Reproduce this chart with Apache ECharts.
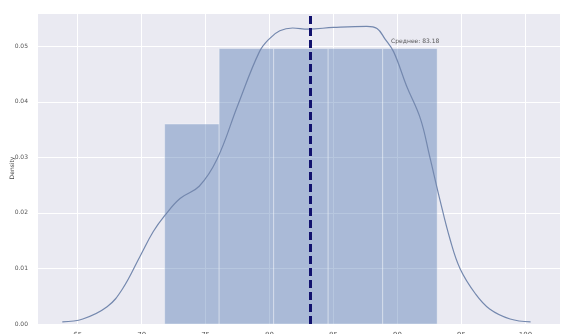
<!DOCTYPE html>
<html>
<head>
<meta charset="utf-8">
<script src="https://cdn.jsdelivr.net/npm/echarts@6/dist/echarts.min.js"></script>
<style>
  html, body { margin: 0; padding: 0; background: #ffffff; }
  #chart { width: 562px; height: 334px; }
</style>
</head>
<body>
<div id="chart"></div>
<script>
// Histogram bin edges and density heights
const binEdges = [71.80, 76.06, 80.32, 84.58, 88.84, 93.10];
const binDensity = [0.0360, 0.0496, 0.0496, 0.0496, 0.0496];

// Kernel density estimate curve: x values and densities
const kdeX = [63.8, 65.4, 67.3, 68.5, 69.9, 70.9, 71.8, 73.0, 74.5, 75.9, 77.5, 79.2, 80.0, 80.8, 81.8, 83.0, 85.0, 87.6, 88.4, 89.0, 89.7, 90.7, 91.8, 92.5, 93.3, 94.1, 94.9, 96.1, 97.2, 98.8, 100.4];
const kdeY = [0.0004, 0.0009, 0.0031, 0.0063, 0.0123, 0.0166, 0.0195, 0.0226, 0.0248, 0.0297, 0.0393, 0.0490, 0.0514, 0.0528, 0.0533, 0.0531, 0.0534, 0.0536, 0.0532, 0.0514, 0.0490, 0.0429, 0.0369, 0.0303, 0.0225, 0.0153, 0.0099, 0.0054, 0.0027, 0.0009, 0.0004];

// Mean of the sample
const meanValue = 83.18;
const meanLabel = 'Среднее: 83.18';

// Axis texts
const xTicks = [65, 70, 75, 80, 85, 90, 95, 100];
const yAxisTitle = 'Density';

const bins = binDensity.map((d, i) => [binEdges[i], binEdges[i + 1], d]);
const kde = kdeX.map((x, i) => [x, kdeY[i]]);

const chart = echarts.init(document.getElementById('chart'), null, { renderer: 'canvas' });

chart.setOption({
  animation: false,
  backgroundColor: '#ffffff',
  grid: { left: 38, right: 2, top: 13, bottom: 10, show: true, backgroundColor: '#EAEAF2', borderWidth: 0,
    containLabel: false, outerBoundsMode: 'none' },
  graphic: [{
    type: 'text',
    x: 12, y: 168,
    rotation: Math.PI / 2,
    style: { text: yAxisTitle, fill: '#444', fontSize: 6, fontFamily: 'DejaVu Sans', align: 'center', verticalAlign: 'middle' }
  }],
  xAxis: {
    type: 'value',
    min: 61.9,
    max: 102.7,
    axisLine: { show: false },
    axisTick: { show: false, customValues: xTicks },
    axisLabel: { customValues: xTicks, color: '#555', fontSize: 7, margin: 8, fontFamily: 'DejaVu Sans' },
    splitLine: { show: true, lineStyle: { color: '#ffffff', width: 1 } }
  },
  yAxis: {
    type: 'value',
    min: 0,
    max: 0.056,
    interval: 0.01,
    axisLine: { show: false },
    axisTick: { show: false },
    axisLabel: { color: '#555', fontSize: 6, margin: 10, fontFamily: 'DejaVu Sans', showMaxLabel: false,
      formatter: v => v.toFixed(2) },
    splitLine: { show: true, lineStyle: { color: '#ffffff', width: 1 } }
  },
  series: [
    {
      type: 'custom',
      data: bins,
      renderItem: (params, api) => {
        const p0 = api.coord([api.value(0), api.value(2)]);
        const p1 = api.coord([api.value(1), 0]);
        return {
          type: 'rect',
          shape: { x: p0[0], y: p0[1], width: p1[0] - p0[0], height: p1[1] - p0[1] },
          style: { fill: 'rgba(76,114,176,0.40)', stroke: 'rgba(255,255,255,0.35)', lineWidth: 1 }
        };
      },
      z: 2
    },
    {
      type: 'line',
      data: kde,
      smooth: 0.4,
      showSymbol: false,
      lineStyle: { color: '#7488AE', width: 1.2 },
      z: 3,
      markLine: {
        silent: true,
        symbol: 'none',
        label: { show: false },
        lineStyle: { color: '#12126E', width: 3, type: [8, 4] },
        data: [{ xAxis: meanValue }]
      }
    },
    {
      type: 'scatter',
      data: [[89.5, 0.0508]],
      symbolSize: 0,
      label: { show: true, position: 'right', distance: 0, formatter: meanLabel, color: '#333', fontSize: 6, fontFamily: 'DejaVu Sans' },
      z: 4
    }
  ]
});
</script>
</body>
</html>
